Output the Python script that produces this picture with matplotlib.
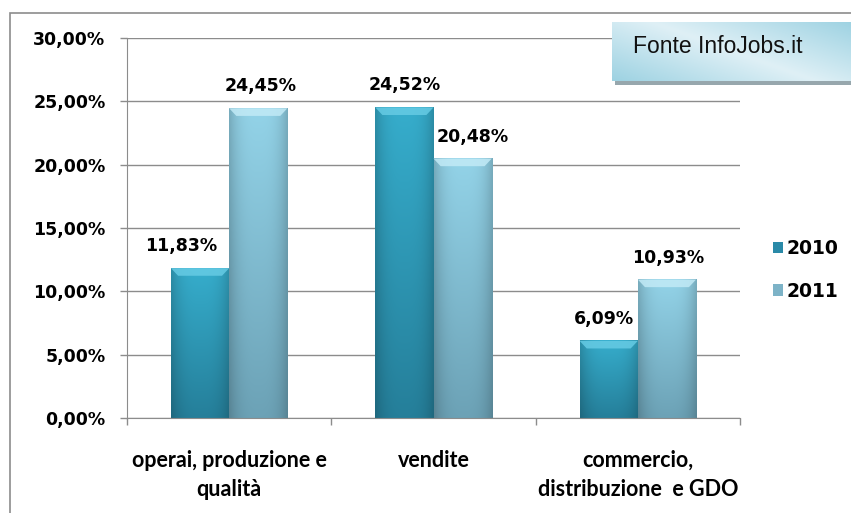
import numpy as np
import matplotlib
matplotlib.use('Agg')
import matplotlib.pyplot as plt
from matplotlib.patches import Rectangle, Polygon, Patch
from matplotlib.colors import to_rgb

categories = ['operai, produzione e\nqualità', 'vendite', 'commercio,\ndistribuzione  e GDO']
years = ['2010', '2011']
v2010 = [11.83, 24.52, 6.09]
v2011 = [24.45, 20.48, 10.93]
yticks = [0, 5, 10, 15, 20, 25, 30]
source = 'Fonte InfoJobs.it'

W, H = 851, 513
plt.rcParams['font.family'] = ['DejaVu Sans']

fig = plt.figure(figsize=(W / 100, H / 100), dpi=100)

# outer chart border (only left and top visible)
fig.patches.append(Rectangle((10 / W, -0.1), 1.2, (H - 13) / H + 0.1,
                             transform=fig.transFigure, fill=False,
                             edgecolor='#8c8c8c', lw=1.2))

ax = fig.add_axes([127 / W, 95 / H, 613 / W, 380 / H])

styles = {
    '2010': dict(top='#36adcc', bot='#257f9a', bevel='#66cbe4', leg='#2a8aa8'),
    '2011': dict(top='#93d3e8', bot='#6ca2b6', bevel='#c2eaf6', leg='#7db3c7'),
}
bw = 0.285
x = np.arange(len(categories))


def draw_bar(xc, h, st):
    x0, x1 = xc - bw / 2, xc + bw / 2
    top, bot = np.array(to_rgb(st['top'])), np.array(to_rgb(st['bot']))
    ny, nx = 100, 40
    t = np.linspace(0, 1, ny)[:, None, None]
    img = top * (1 - t) + bot * t
    u = np.linspace(-1, 1, nx)[None, :, None]
    shade = 1 - 0.18 * np.abs(u) ** 3
    img = np.clip(img * shade, 0, 1)
    ax.imshow(img, extent=[x0, x1, 0, h], aspect='auto', origin='upper',
              zorder=2, interpolation='bilinear')
    d = 0.035
    bh = 0.6
    ax.add_patch(Polygon([(x0, h), (x1, h), (x1 - d, h - bh), (x0 + d, h - bh)],
                         closed=True, facecolor=st['bevel'], edgecolor='none',
                         alpha=0.85, zorder=3))


label_dx = {'2010': [-19, 0, -5], '2011': [2, 10, 1]}
for yr, vals, off in zip(years, [v2010, v2011], [-bw / 2, bw / 2]):
    for i, v in enumerate(vals):
        draw_bar(x[i] + off, v, styles[yr])
        ax.annotate(f'{v:.2f}%'.replace('.', ','), (x[i] + off, v),
                    xytext=(label_dx[yr][i], 22), textcoords='offset pixels',
                    ha='center', va='center', fontsize=12.5, fontweight='bold')

ax.set_xlim(-0.5, 2.5)
ax.set_ylim(0, 30)
ax.set_yticks(yticks)
ax.set_yticklabels([f'{t:.2f}%'.replace('.', ',') for t in yticks],
                   fontsize=12.5, fontweight='bold')
ax.yaxis.grid(True, color='#8c8c8c', lw=1)
ax.set_axisbelow(True)

ax.set_xticks([-0.5, 0.5, 1.5, 2.5])
ax.set_xticklabels([])
ax.set_xticks(x, minor=True)
ax.set_xticklabels(categories, minor=True, fontsize=15.5, fontweight='bold',
                   family=['Lato', 'DejaVu Sans'], linespacing=1.5)
ax.tick_params(axis='x', which='minor', length=0, pad=23)
ax.tick_params(axis='x', which='major', length=5, color='#8c8c8c', width=1)
ax.tick_params(axis='y', length=5, color='#8c8c8c', width=1, pad=10.5)

for s in ['top', 'right']:
    ax.spines[s].set_visible(False)
for s in ['left', 'bottom']:
    ax.spines[s].set_color('#8c8c8c')

handles = [Patch(facecolor=styles[y]['leg'], edgecolor='none') for y in years]
leg = ax.legend(handles, years, loc='center left',
                bbox_to_anchor=(773 / W, (H - 270) / H), bbox_transform=fig.transFigure,
                frameon=False, handlelength=0.55, handleheight=0.55,
                handletextpad=0.15, labelspacing=1.25, borderpad=0, borderaxespad=0,
                prop=dict(size=13.5, weight='bold'))

# source box
bx0, by0, bx1, by1 = 612, 22, 856, 81
fig.patches.append(Rectangle(((bx0 + 3) / W, (H - by1 - 4) / H), (bx1 - bx0) / W, (by1 - by0) / H,
                             transform=fig.transFigure, facecolor='#97a7ad',
                             edgecolor='none', zorder=5))
bax = fig.add_axes([bx0 / W, (H - by1) / H, (bx1 - bx0) / W, (by1 - by0) / H], zorder=6)
gy, gx = np.mgrid[0:1:60j, 0:1:200j]
dist = np.abs((gx * 0.6 + (1 - gy) * 0.4) - 0.5) * 2
c0, c1 = np.array(to_rgb('#dff0f6')), np.array(to_rgb('#9dd2e2'))
gimg = c0 * (1 - dist[..., None]) + c1 * dist[..., None]
bax.imshow(gimg, extent=[0, 1, 0, 1], aspect='auto', interpolation='bilinear')
bax.set_xlim(0, 1)
bax.set_ylim(0, 1)
bax.axis('off')
bax.text(21 / (bx1 - bx0), 0.59, source, ha='left', va='center',
         fontsize=16.5, family='Liberation Sans', color='#111111')

fig.savefig('out.png', dpi=100)
